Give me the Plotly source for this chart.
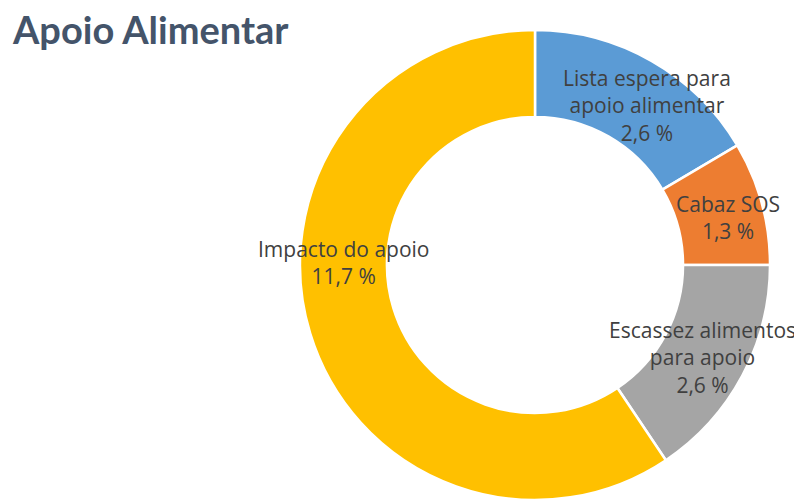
import plotly.graph_objects as go

# --- data ---
title_text = "Apoio Alimentar"
categories = ["Lista espera para<br>apoio alimentar", "Cabaz SOS",
              "Escassez alimentos<br>para apoio", "Impacto do apoio"]
label_pct = [2.6, 1.3, 2.6, 11.7]          # percentages printed on the chart
slice_share = [16.5, 8.5, 15.6, 59.4]      # slice sizes as drawn (share of the ring, %)
colors = ["#5B9BD5", "#ED7D31", "#A5A5A5", "#FFC000"]

# label centres (window pixels of the 802x504 picture)
label_px = [(647, 105), (728, 218), (702, 357), (343, 262)]

# the page body has an 8 px margin, so the figure sits at (8, 8)
OFF = 8
W, H = 802 - OFF, 504 - OFF
cx, cy, r = 535 - OFF, 265 - OFF, 235

fig = go.Figure(go.Pie(
    labels=[c.replace("<br>", " ") for c in categories],
    values=slice_share,
    sort=False,
    direction="clockwise",
    rotation=0,
    hole=0.63,
    marker=dict(colors=colors, line=dict(color="white", width=2.5)),
    textinfo="none",
    hoverinfo="label",
    showlegend=False,
    domain=dict(x=[(cx - r) / W, (cx + r) / W],
                y=[(H - cy - r) / H, (H - cy + r) / H]),
))

annotations = []
for cat, pct, (px, py) in zip(categories, label_pct, label_px):
    txt = f"{cat}<br>{pct:.1f} %".replace(".", ",")
    annotations.append(dict(
        x=(px - OFF) / W, y=1 - (py - OFF) / H, xref="paper", yref="paper",
        text=txt, showarrow=False, xanchor="center", yanchor="middle",
        align="center",
        font=dict(family="Open Sans", size=21, color="#404040"),
    ))

fig.update_layout(
    width=W, height=H,
    margin=dict(l=0, r=0, t=0, b=0),
    paper_bgcolor="white", plot_bgcolor="white",
    annotations=annotations,
    title=dict(
        text=f"<b>{title_text}</b>",
        x=(13 - OFF) / W, xanchor="left", xref="container",
        y=1 - (31 - OFF) / H, yanchor="middle", yref="container",
        font=dict(family="Lato", size=38, color="#44546A"),
    ),
)

fig.write_html("out.html")
